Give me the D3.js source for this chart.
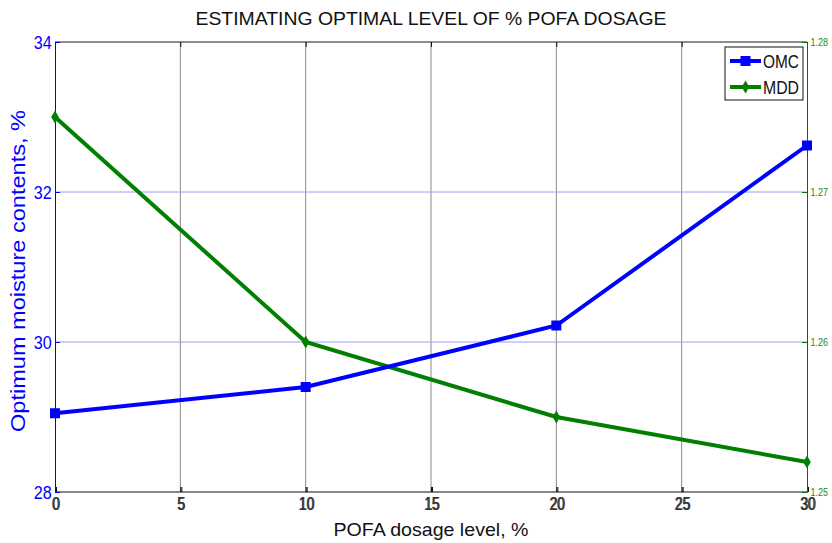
<!DOCTYPE html>
<html>
<head>
<meta charset="utf-8">
<script src="https://cdn.jsdelivr.net/npm/d3@7"></script>
<style>
body { margin: 0; background: #fff; }
text { font-family: "Liberation Sans", Arial, sans-serif; }
</style>
</head>
<body>
<svg id="chart" width="832" height="543"></svg>
<script>
// data
var dosage = [0, 10, 20, 30];
var omc = [29.05, 29.40, 30.22, 32.62];
var mdd = [1.275, 1.260, 1.255, 1.252];
var xTicks = [0, 5, 10, 15, 20, 25, 30];
var leftTicks = [28, 30, 32, 34];
var rightTicks = [1.25, 1.26, 1.27, 1.28];

var svg = d3.select("#chart");
var pLeft = 55, pRight = 807, pTop = 42, pBottom = 492;

var x = d3.scaleLinear().domain([0, 30]).range([pLeft, pRight]);
var yL = d3.scaleLinear().domain([28, 34]).range([pBottom, pTop]);
var yR = d3.scaleLinear().domain([1.25, 1.28]).range([pBottom, pTop]);

// grid
svg.append("g").selectAll("line")
    .data(xTicks.slice(1, -1))
    .enter().append("line")
    .attr("x1", d => x(d)).attr("x2", d => x(d))
    .attr("y1", pTop).attr("y2", pBottom)
    .attr("stroke", "#8a8a8a").attr("stroke-width", 1);

svg.append("g").selectAll("line")
    .data(leftTicks.slice(1, -1))
    .enter().append("line")
    .attr("x1", pLeft).attr("x2", pRight)
    .attr("y1", d => yL(d)).attr("y2", d => yL(d))
    .attr("stroke", "#9a9aff").attr("stroke-width", 1);

// frame top / bottom
svg.append("line").attr("x1", pLeft).attr("x2", pRight).attr("y1", pTop).attr("y2", pTop)
    .attr("stroke", "#1a1a3a").attr("stroke-width", 1.2);
svg.append("line").attr("x1", pLeft).attr("x2", pRight).attr("y1", pBottom).attr("y2", pBottom)
    .attr("stroke", "#111").attr("stroke-width", 1.2);

// x axis (drawn twice, slightly shifted, like the overlapping axes of the original)
[0, 1].forEach(function(dx) {
    var gx = svg.append("g")
        .attr("transform", "translate(" + dx + "," + pBottom + ")")
        .call(d3.axisBottom(x).tickValues(xTicks).tickSize(-5).tickPadding(5));
    gx.select(".domain").remove();
    gx.selectAll("line").attr("stroke", "#111");
    gx.selectAll("text").attr("font-size", 19).attr("fill", "#333")
        .attr("transform", "scale(0.72,1)");
});
var gxTop = svg.append("g")
    .attr("transform", "translate(0," + pTop + ")")
    .call(d3.axisTop(x).tickValues(xTicks).tickSize(-5).tickFormat(""));
gxTop.select(".domain").remove();
gxTop.selectAll("line").attr("stroke", "#111");

// left axis
var gl = svg.append("g")
    .attr("transform", "translate(" + pLeft + ",0)")
    .call(d3.axisLeft(yL).tickValues(leftTicks).tickSize(-5).tickPadding(4).tickFormat(d3.format("d")));
gl.select(".domain").attr("stroke", "#0000ff");
gl.selectAll("line").attr("stroke", "#0000ff");
gl.selectAll("text").attr("font-size", 19).attr("fill", "#0000ff")
    .attr("transform", "scale(0.85,1)");

// right axis
var gr = svg.append("g")
    .attr("transform", "translate(" + pRight + ",0)")
    .call(d3.axisRight(yR).tickValues(rightTicks).tickSize(-5).tickPadding(4).tickFormat(d3.format(".2f")));
gr.select(".domain").attr("stroke", "#007000");
gr.selectAll("line").attr("stroke", "#007000");
gr.selectAll("text").attr("font-size", 10).attr("fill", "#1a8a1a")
    .attr("transform", "scale(0.9,1)");

// lines
var omcLine = d3.line().x((d, i) => x(dosage[i])).y(d => yL(d));
var mddLine = d3.line().x((d, i) => x(dosage[i])).y(d => yR(d));

svg.append("path").datum(mdd).attr("d", mddLine)
    .attr("fill", "none").attr("stroke", "#007f00").attr("stroke-width", 4);
svg.append("path").datum(omc).attr("d", omcLine)
    .attr("fill", "none").attr("stroke", "#0000ff").attr("stroke-width", 4);

svg.append("g").selectAll("rect")
    .data(omc).enter().append("rect")
    .attr("x", (d, i) => x(dosage[i]) - 5).attr("y", d => yL(d) - 5)
    .attr("width", 10).attr("height", 10).attr("fill", "#0000ff");

svg.append("g").selectAll("path")
    .data(mdd).enter().append("path")
    .attr("transform", (d, i) => "translate(" + x(dosage[i]) + "," + yR(d) + ")")
    .attr("d", d3.symbol().type(d3.symbolDiamond).size(50))
    .attr("fill", "#007f00");

// title and labels
svg.append("text").attr("x", 431).attr("y", 25).attr("text-anchor", "middle")
    .attr("font-size", 19).attr("fill", "#111")
    .attr("textLength", 471).attr("lengthAdjust", "spacingAndGlyphs")
    .text("ESTIMATING OPTIMAL LEVEL OF % POFA DOSAGE");
svg.append("text").attr("x", 431).attr("y", 536).attr("text-anchor", "middle")
    .attr("font-size", 19).attr("fill", "#111")
    .attr("textLength", 195).attr("lengthAdjust", "spacingAndGlyphs")
    .text("POFA dosage level, %");
svg.append("text").attr("transform", "translate(25,271) rotate(-90)").attr("text-anchor", "middle")
    .attr("font-size", 21).attr("fill", "#0000ff")
    .attr("textLength", 322).attr("lengthAdjust", "spacingAndGlyphs")
    .text("Optimum moisture contents, %");

// legend
var legendNames = ["OMC", "MDD"];
var legendColors = ["#0000ff", "#007f00"];
var lg = svg.append("g").attr("transform", "translate(725,47)");
lg.append("rect").attr("width", 78).attr("height", 53)
    .attr("fill", "#fff").attr("stroke", "#111").attr("stroke-width", 1);
legendNames.forEach(function(name, i) {
    var yy = 14 + i * 26;
    lg.append("line").attr("x1", 5).attr("x2", 36).attr("y1", yy).attr("y2", yy)
        .attr("stroke", legendColors[i]).attr("stroke-width", 4);
    if (i === 0) {
        lg.append("rect").attr("x", 15.5).attr("y", yy - 5).attr("width", 10).attr("height", 10).attr("fill", legendColors[i]);
    } else {
        lg.append("path").attr("transform", "translate(20.5," + yy + ")")
            .attr("d", d3.symbol().type(d3.symbolDiamond).size(50)).attr("fill", legendColors[i]);
    }
    lg.append("text").attr("x", 38).attr("y", yy + 6.5).attr("font-size", 18).attr("fill", "#111")
        .attr("textLength", 36).attr("lengthAdjust", "spacingAndGlyphs").text(name);
});
</script>
</body>
</html>
